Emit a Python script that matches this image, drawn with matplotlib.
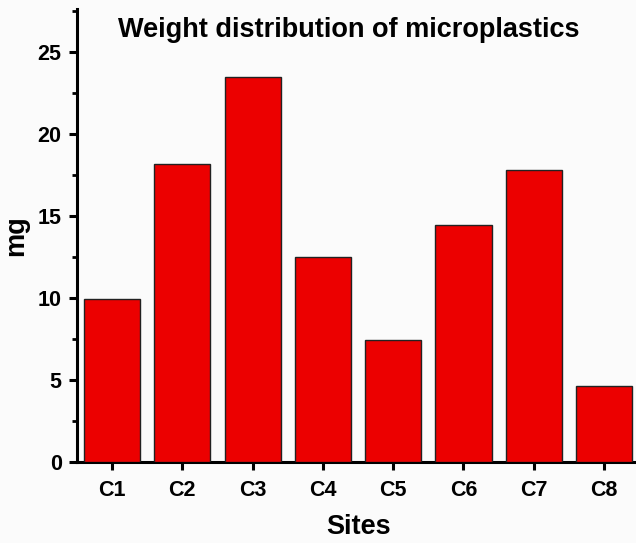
import matplotlib.pyplot as plt
from matplotlib.ticker import MultipleLocator

plt.rcParams['font.family'] = ['Liberation Sans', 'DejaVu Sans']
plt.rcParams['font.weight'] = 'bold'

sites = ['C1', 'C2', 'C3', 'C4', 'C5', 'C6', 'C7', 'C8']
weight_mg = [9.94, 18.17, 23.48, 12.52, 7.44, 14.43, 17.79, 4.63]


def main():
    fig = plt.figure(figsize=(6.36, 5.43), dpi=100, facecolor='#fbfbfb')
    ax = fig.add_axes([0.121, 0.149, 0.884, 0.834])
    ax.set_facecolor('#fbfbfb')

    pos = list(range(1, len(sites) + 1))
    ax.bar(pos, weight_mg, width=0.8, color='#ec0000',
           edgecolor='#222222', linewidth=1.0, zorder=3)

    ax.set_xlim(0.5, 8.5)
    ax.set_ylim(0, 27.6)
    ax.set_xticks(pos)
    ax.set_xticklabels(sites)
    ax.yaxis.set_major_locator(MultipleLocator(5))
    ax.yaxis.set_minor_locator(MultipleLocator(2.5))

    # only left and bottom axes
    for s in ['top', 'right']:
        ax.spines[s].set_visible(False)
    for s in ['left', 'bottom']:
        ax.spines[s].set_linewidth(2.2)

    ax.tick_params(axis='both', which='major', direction='out',
                   length=6, width=2.2, labelsize=15.5, pad=5)
    ax.tick_params(axis='x', which='major', pad=7)
    ax.tick_params(axis='y', which='minor', direction='out',
                   length=3.5, width=2.0)
    ax.tick_params(axis='x', which='minor', bottom=False)

    ax.set_xlabel('Sites', fontsize=19.5, fontweight='bold', labelpad=9)
    ax.set_ylabel('mg', fontsize=19.5, fontweight='bold', labelpad=6)
    fig.text(0.549, 0.945, 'Weight distribution of microplastics',
             ha='center', va='center', fontsize=19.5, fontweight='bold')

    plt.savefig('out.png', dpi=100, facecolor=fig.get_facecolor())


if __name__ == "__main__":
    main()
